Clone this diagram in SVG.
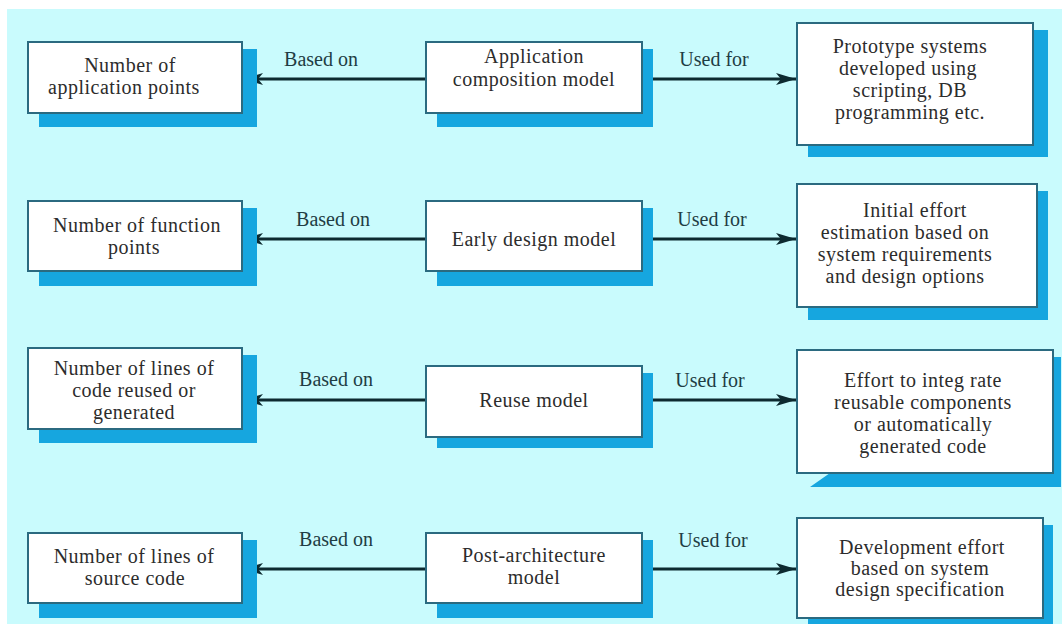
<svg xmlns="http://www.w3.org/2000/svg" width="1062" height="624" viewBox="0 0 1062 624">
  <defs>
    <style>
      .bg { fill: #c9fbfd; }
      .shadow { fill: #16a6df; }
      .box { fill: #ffffff; stroke: #2b6a80; stroke-width: 2; }
      .t { font-family: "Liberation Serif", "Times New Roman", serif; font-size: 20px; fill: #2c2c2c; text-anchor: middle; letter-spacing: 0.5px; }
      .lbl { font-family: "Liberation Serif", "Times New Roman", serif; font-size: 20px; fill: #1f3d44; text-anchor: middle; }
      .wire { stroke: #0d2a30; stroke-width: 3; fill: none; }
    </style>
    <marker id="arrow" viewBox="0 0 20 12" refX="20" refY="6" markerWidth="20" markerHeight="12" markerUnits="userSpaceOnUse" orient="auto">
      <path d="M0,0 L20,6 L0,12 L5,6 Z" fill="#0d2a30"/>
    </marker>
  </defs>

  <!-- page -->
  <rect x="0" y="0" width="1062" height="624" fill="#ffffff"/>
  <rect class="bg" x="7" y="9" width="1055" height="615"/>

  <!-- connectors -->
  <g id="connectors">
    <line class="wire" x1="426" y1="79" x2="243" y2="79" marker-end="url(#arrow)"/>
    <line class="wire" x1="642" y1="79" x2="796" y2="79" marker-end="url(#arrow)"/>
    <line class="wire" x1="426" y1="239" x2="243" y2="239" marker-end="url(#arrow)"/>
    <line class="wire" x1="642" y1="239" x2="796" y2="239" marker-end="url(#arrow)"/>
    <line class="wire" x1="426" y1="400" x2="243" y2="400" marker-end="url(#arrow)"/>
    <line class="wire" x1="642" y1="400" x2="796" y2="400" marker-end="url(#arrow)"/>
    <line class="wire" x1="426" y1="569" x2="243" y2="569" marker-end="url(#arrow)"/>
    <line class="wire" x1="642" y1="569" x2="796" y2="569" marker-end="url(#arrow)"/>
    <text class="lbl" x="321" y="66">Based on</text>
    <text class="lbl" x="714" y="66">Used for</text>
    <text class="lbl" x="333" y="226">Based on</text>
    <text class="lbl" x="712" y="226">Used for</text>
    <text class="lbl" x="336" y="386">Based on</text>
    <text class="lbl" x="710" y="387">Used for</text>
    <text class="lbl" x="336" y="546">Based on</text>
    <text class="lbl" x="713" y="547">Used for</text>
  </g>

  <!-- row 1 -->
  <g id="app-points">
    <rect class="shadow" x="39" y="49" width="218" height="78"/>
    <rect class="box" x="28" y="42" width="214" height="71"/>
    <text class="t"><tspan x="130" y="72">Number of</tspan><tspan x="124" y="94">application points</tspan></text>
  </g>
  <g id="app-composition">
    <rect class="shadow" x="437" y="49" width="216" height="78"/>
    <rect class="box" x="426" y="42" width="216" height="71"/>
    <text class="t"><tspan x="534" y="63">Application</tspan><tspan x="534" y="86">composition model</tspan></text>
  </g>
  <g id="prototype">
    <rect class="shadow" x="808" y="30" width="240" height="127"/>
    <rect class="box" x="797" y="23" width="236" height="122"/>
    <text class="t"><tspan x="910" y="53">Prototype systems</tspan><tspan x="908" y="75">developed using</tspan><tspan x="910" y="97">scripting, DB</tspan><tspan x="910" y="119">programming etc.</tspan></text>
  </g>

  <!-- row 2 -->
  <g id="function-points">
    <rect class="shadow" x="39" y="208" width="218" height="78"/>
    <rect class="box" x="28" y="201" width="214" height="70"/>
    <text class="t"><tspan x="137" y="232">Number of function</tspan><tspan x="134" y="254">points</tspan></text>
  </g>
  <g id="early-design">
    <rect class="shadow" x="437" y="208" width="216" height="78"/>
    <rect class="box" x="426" y="201" width="216" height="70"/>
    <text class="t" x="534" y="246">Early design model</text>
  </g>
  <g id="initial-effort">
    <rect class="shadow" x="808" y="191" width="240" height="129"/>
    <rect class="box" x="797" y="184" width="240" height="123"/>
    <text class="t"><tspan x="915" y="217">Initial effort</tspan><tspan x="905" y="239">estimation based on</tspan><tspan x="905" y="261">system requirements</tspan><tspan x="905" y="283">and design options</tspan></text>
  </g>

  <!-- row 3 -->
  <g id="reused-lines">
    <rect class="shadow" x="39" y="355" width="218" height="88"/>
    <rect class="box" x="28" y="348" width="214" height="81"/>
    <text class="t"><tspan x="134" y="375">Number of lines of</tspan><tspan x="134" y="397">code reused or</tspan><tspan x="134" y="419">generated</tspan></text>
  </g>
  <g id="reuse-model">
    <rect class="shadow" x="437" y="373" width="216" height="75"/>
    <rect class="box" x="426" y="366" width="216" height="71"/>
    <text class="t" x="534" y="407">Reuse model</text>
  </g>
  <g id="integration-effort">
    <polygon class="shadow" points="808,357 1061,357 1061,487 810,487 830,473 808,473"/>
    <rect class="box" x="797" y="350" width="256" height="123"/>
    <text class="t"><tspan x="923" y="387">Effort to integ rate</tspan><tspan x="923" y="409">reusable components</tspan><tspan x="923" y="431">or automatically</tspan><tspan x="923" y="453">generated code</tspan></text>
  </g>

  <!-- row 4 -->
  <g id="source-lines">
    <rect class="shadow" x="39" y="540" width="218" height="78"/>
    <rect class="box" x="28" y="533" width="214" height="70"/>
    <text class="t"><tspan x="134" y="563">Number of lines of</tspan><tspan x="135" y="585">source code</tspan></text>
  </g>
  <g id="post-architecture">
    <rect class="shadow" x="437" y="540" width="216" height="78"/>
    <rect class="box" x="426" y="533" width="216" height="70"/>
    <text class="t"><tspan x="534" y="562">Post-architecture</tspan><tspan x="534" y="584">model</tspan></text>
  </g>
  <g id="development-effort">
    <rect class="shadow" x="808" y="525" width="245" height="99"/>
    <rect class="box" x="797" y="518" width="246" height="100"/>
    <text class="t"><tspan x="922" y="554">Development effort</tspan><tspan x="920" y="575">based on system</tspan><tspan x="920" y="596">design specification</tspan></text>
  </g>
</svg>
